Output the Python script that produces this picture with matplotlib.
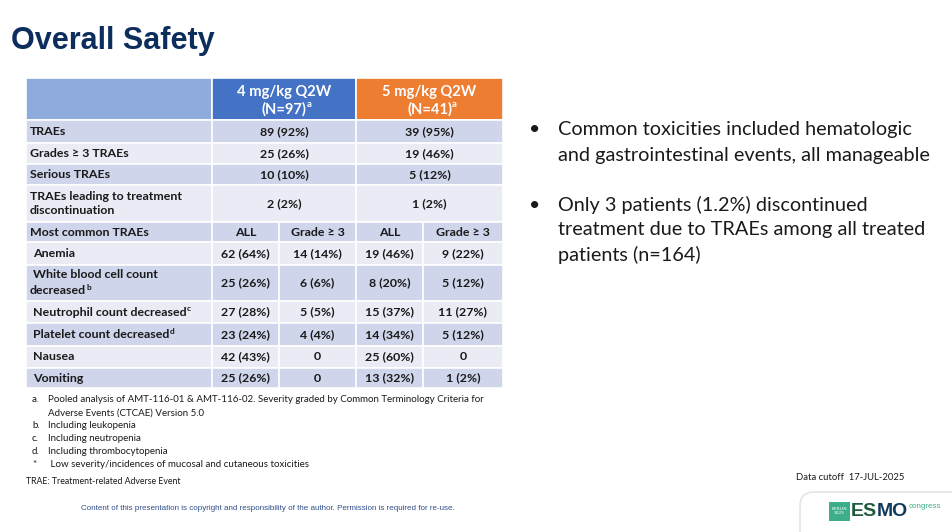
import matplotlib.pyplot as plt
from matplotlib.patches import Rectangle, FancyBboxPatch

# ---- data ----
arms = ['4 mg/kg Q2W', '5 mg/kg Q2W']
arm_n = ['(N=97)', '(N=41)']
summary_rows = ['TRAEs', 'Grades \u2265 3 TRAEs', 'Serious TRAEs',
                'TRAEs leading to treatment\ndiscontinuation']
summary_4mg_n = [89, 25, 10, 2]
summary_4mg_pct = [92, 26, 10, 2]
summary_5mg_n = [39, 19, 5, 1]
summary_5mg_pct = [95, 46, 12, 2]
subheads = ['ALL', 'Grade \u2265 3', 'ALL', 'Grade \u2265 3']
ae_rows = ['Anemia', 'White blood cell count\ndecreased', 'Neutrophil count decreased',
           'Platelet count decreased', 'Nausea', 'Vomiting']
ae_marks = ['', 'b', 'c', 'd', '', '']
ae_4mg_all_n = [62, 25, 27, 23, 42, 25]
ae_4mg_all_pct = [64, 26, 28, 24, 43, 26]
ae_4mg_g3_n = [14, 6, 5, 4, 0, 0]
ae_4mg_g3_pct = [14, 6, 5, 4, 0, 0]
ae_5mg_all_n = [19, 8, 15, 14, 25, 13]
ae_5mg_all_pct = [46, 20, 37, 34, 60, 32]
ae_5mg_g3_n = [9, 5, 11, 5, 0, 1]
ae_5mg_g3_pct = [22, 12, 27, 12, 0, 2]

bullets = ['Common toxicities included hematologic\nand gastrointestinal events, all manageable',
           'Only 3 patients (1.2%) discontinued\ntreatment due to TRAEs among all treated\npatients (n=164)']
footnotes = [('a.', 'Pooled analysis of AMT-116-01 & AMT-116-02. Severity graded by Common Terminology Criteria for\nAdverse Events (CTCAE) Version 5.0'),
             ('b.', 'Including leukopenia'),
             ('c.', 'Including neutropenia'),
             ('d.', 'Including thrombocytopenia'),
             ('*', ' Low severity/incidences of mucosal and cutaneous toxicities')]


def fmt(n, p):
    return '0' if n == 0 else f'{n} ({p}%)'


# ---- layout (pixels) ----
W, H = 952, 532
BODY = ['Lato', 'DejaVu Sans']
TXT = '#1a1a1a'
DARK_ROW, LIGHT_ROW = '#cfd5ea', '#e9ebf5'
FS = 8.9
col_x = [26, 212, 279, 356, 423, 503]
head_top, head_bot = 78, 120
row_edges = [120, 143, 164, 185, 222, 242, 265, 301, 323, 346, 368, 388]

fig = plt.figure(figsize=(W / 100, H / 100), dpi=100)
ax = fig.add_axes([0, 0, 1, 1])
ax.set_xlim(0, W)
ax.set_ylim(H, 0)
ax.axis('off')


def cell(x0, x1, y0, y1, color):
    ax.add_patch(Rectangle((x0, y0), x1 - x0, y1 - y0, facecolor=color,
                           edgecolor='white', linewidth=1.2))


def sup(txt_artist, mark, size, color=TXT):
    ax.annotate(mark, xy=(1, 0.8), xycoords=txt_artist, xytext=(0.2, 0),
                textcoords='offset points', fontsize=size, fontweight='bold',
                color=color, family=BODY, ha='left', va='center')


# title
ax.text(11, 41, 'Overall Safety', fontsize=22, fontweight='bold', color='#0d2e5c',
        family='Liberation Sans', ha='left', va='center')

# header
cell(col_x[0], col_x[1], head_top, head_bot, '#8faadc')
for i, color in enumerate(['#4472c4', '#ed7d31']):
    x0, x1 = col_x[1 + 2 * i], col_x[3 + 2 * i]
    cell(x0, x1, head_top, head_bot, color)
    xc = (x0 + x1) / 2
    ax.text(xc, 92, arms[i], fontsize=10.6, fontweight='bold', color='white',
            family=BODY, ha='center', va='center')
    t = ax.text(xc, 109, arm_n[i], fontsize=10.6, fontweight='bold', color='white',
                family=BODY, ha='center', va='center')
    sup(t, 'a', 7, 'white')

# summary rows (merged value cells)
for r, label in enumerate(summary_rows):
    y0, y1 = row_edges[r], row_edges[r + 1]
    color = DARK_ROW if r % 2 == 0 else LIGHT_ROW
    cell(col_x[0], col_x[1], y0, y1, color)
    cell(col_x[1], col_x[3], y0, y1, color)
    cell(col_x[3], col_x[5], y0, y1, color)
    yc = (y0 + y1) / 2
    ax.text(30, yc, label, fontsize=FS, fontweight='bold', color=TXT, family=BODY,
            ha='left', va='center', linespacing=1.4)
    ax.text((col_x[1] + col_x[3]) / 2, yc, fmt(summary_4mg_n[r], summary_4mg_pct[r]),
            fontsize=FS, fontweight='bold', color=TXT, family=BODY, ha='center', va='center')
    ax.text((col_x[3] + col_x[5]) / 2, yc, fmt(summary_5mg_n[r], summary_5mg_pct[r]),
            fontsize=FS, fontweight='bold', color=TXT, family=BODY, ha='center', va='center')

# sub-header row
r = len(summary_rows)
y0, y1 = row_edges[r], row_edges[r + 1]
yc = (y0 + y1) / 2
cell(col_x[0], col_x[1], y0, y1, DARK_ROW)
ax.text(30, yc, 'Most common TRAEs', fontsize=FS, fontweight='bold', color=TXT,
        family=BODY, ha='left', va='center')
for j, s in enumerate(subheads):
    cell(col_x[1 + j], col_x[2 + j], y0, y1, DARK_ROW)
    ax.text((col_x[1 + j] + col_x[2 + j]) / 2, yc, s, fontsize=FS, fontweight='bold',
            color=TXT, family=BODY, ha='center', va='center')

# adverse event rows
ae_cols = [(ae_4mg_all_n, ae_4mg_all_pct), (ae_4mg_g3_n, ae_4mg_g3_pct),
           (ae_5mg_all_n, ae_5mg_all_pct), (ae_5mg_g3_n, ae_5mg_g3_pct)]
for k, label in enumerate(ae_rows):
    r = len(summary_rows) + 1 + k
    y0, y1 = row_edges[r], row_edges[r + 1]
    yc = (y0 + y1) / 2
    color = LIGHT_ROW if k % 2 == 0 else DARK_ROW
    cell(col_x[0], col_x[1], y0, y1, color)
    lines = label.split('\n')
    step = 16
    top = yc - step * (len(lines) - 1) / 2
    t = None
    for li, line in enumerate(lines):
        x = 33 if li == 0 else 30
        t = ax.text(x, top + li * step, line, fontsize=FS, fontweight='bold', color=TXT,
                    family=BODY, ha='left', va='center')
    if ae_marks[k]:
        sup(t, ae_marks[k], 6)
    for j, (ns, ps) in enumerate(ae_cols):
        cell(col_x[1 + j], col_x[2 + j], y0, y1, color)
        ax.text((col_x[1 + j] + col_x[2 + j]) / 2, yc, fmt(ns[k], ps[k]), fontsize=FS,
                fontweight='bold', color=TXT, family=BODY, ha='center', va='center')

# footnotes
fy = 400
for mark, text in footnotes:
    ax.text(32, fy, mark, fontsize=7, color=TXT, family=BODY, ha='left', va='center')
    for li, line in enumerate(text.split('\n')):
        if li:
            fy += 12.8
        ax.text(48, fy, line, fontsize=7, color=TXT, family=BODY, ha='left', va='center')
    fy += 12.8
ax.text(26, 482, 'TRAE: Treatment-related Adverse Event', fontsize=6.3, color=TXT,
        family=BODY, ha='left', va='center')

# bullets
by = 130
for b in bullets:
    ax.text(535, by, '\u2022', fontsize=14, color=TXT, family=BODY, ha='center', va='center')
    for line in b.split('\n'):
        ax.text(558, by, line, fontsize=14.3, color=TXT, family=BODY, ha='left', va='center')
        by += 25
    by += 25

# footer
ax.text(268, 508, 'Content of this presentation is copyright and responsibility of the author. '
        'Permission is required for re-use.', fontsize=5.75, color='#2f4f8a',
        family='Liberation Sans', ha='center', va='center')
ax.text(796, 478, 'Data cutoff  17-JUL-2025', fontsize=6.8, color=TXT, family=BODY,
        ha='left', va='center')

# bottom-right logo card
ax.add_patch(FancyBboxPatch((800, 492), 170, 60, boxstyle='round,pad=0,rounding_size=14',
                            facecolor='white', edgecolor='#e4e4e4', linewidth=1.2))
ax.add_patch(Rectangle((829, 502), 21, 19, facecolor='#3dae8c', edgecolor='none'))
ax.text(839.5, 511.5, 'BERLIN\n2025', fontsize=3.2, color='white', family='DejaVu Sans',
        ha='center', va='center', linespacing=1.0)
es = ax.text(851, 512, 'ES', fontsize=14, fontweight='bold', color='#1f5b3a',
             family='Liberation Sans', ha='left', va='center')
mo = ax.annotate('MO', xy=(1, 0.5), xycoords=es, xytext=(-0.5, 0), textcoords='offset points',
                 fontsize=14, fontweight='bold', color='#123a5c', family='Liberation Sans',
                 ha='left', va='center')
ax.annotate('congress', xy=(1, 1), xycoords=mo, xytext=(0.5, 0), textcoords='offset points',
            fontsize=5.8, color='#3dae8c', family='Liberation Sans', ha='left', va='top')

fig.savefig('out.png', dpi=100, facecolor='white')
